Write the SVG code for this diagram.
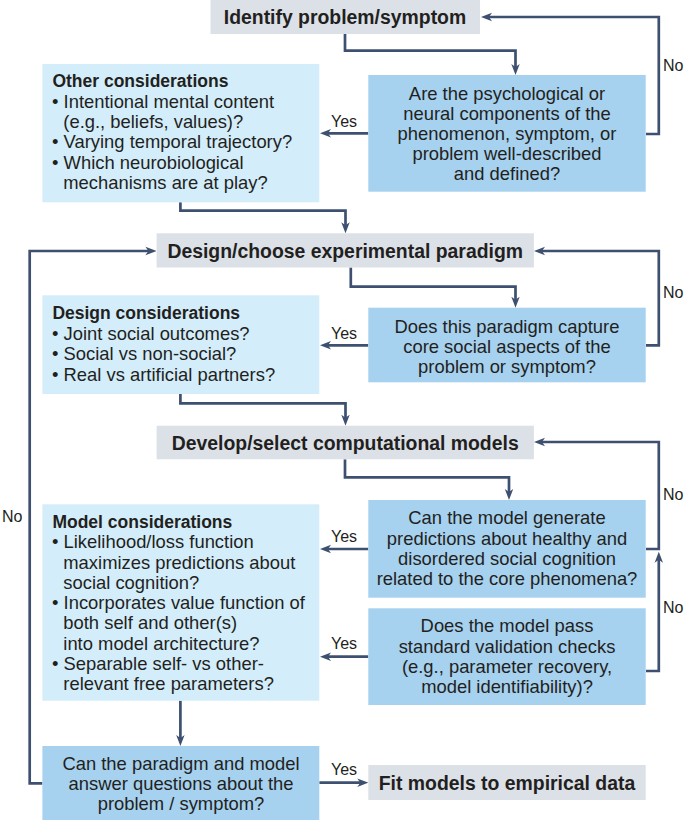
<svg xmlns="http://www.w3.org/2000/svg" width="685" height="820" viewBox="0 0 685 820">
<style>
.gray{fill:#dce1e8}
.light{fill:#d3edfb}
.mid{fill:#a6d1ef}
text{font-family:"Liberation Sans",Arial,sans-serif;fill:#231f20}
.t{font-size:19.4px;font-weight:bold;text-anchor:middle}
.h{font-size:17.5px;font-weight:bold}
.b{font-size:18.4px}
.c{font-size:18.4px;text-anchor:middle}
.lab{font-size:16px}
.labm{font-size:16px;text-anchor:middle}
.conn path{fill:none;stroke:#3e5070;stroke-width:2.7;marker-end:url(#arr)}
</style>
<defs>
<marker id="arr" markerUnits="userSpaceOnUse" markerWidth="11" markerHeight="10" viewBox="0 0 11 10" refX="6" refY="5" orient="auto">
<path d="M0,0.8 L11,5 L0,9.2 L3,5 Z" fill="#3e5070"/>
</marker>
</defs>
<rect width="685" height="820" fill="#ffffff"/>

<g id="connectors" class="conn">
<path d="M345,34 V50.7 H515.5 V70"/>
<path d="M646,134 H658.8 V17 H486"/>
<path d="M368.3,133.3 H325"/>
<path d="M180.4,202.3 V210.7 H345.5 V228.3"/>
<path d="M350.8,267.5 V286.7 H515.5 V302.7"/>
<path d="M646,345.3 H658.8 V251 H539"/>
<path d="M368.3,345.3 H325"/>
<path d="M180.4,394 V403.3 H345.5 V420.7"/>
<path d="M345,459.3 V477.3 H509 V495"/>
<path d="M646,549 H658.8 V442 H539"/>
<path d="M646,671 H658.8 V556.7"/>
<path d="M368.3,549 H325"/>
<path d="M368.3,656.7 H325"/>
<path d="M180.4,700.7 V741"/>
<path d="M42.4,783.3 H29.7 V251 H151.4"/>
<path d="M319.3,782.7 H363.3"/>
</g>

<g id="labels">
<text class="lab" x="663" y="71">No</text>
<text class="labm" x="344" y="126.5">Yes</text>
<text class="lab" x="663" y="297.5">No</text>
<text class="labm" x="344" y="338.5">Yes</text>
<text class="lab" x="663" y="500">No</text>
<text class="lab" x="663" y="613.3">No</text>
<text class="labm" x="344" y="542">Yes</text>
<text class="labm" x="344" y="649.3">Yes</text>
<text class="lab" x="2" y="522">No</text>
<text class="labm" x="344" y="775.3">Yes</text>
</g>

<g id="identify">
<rect class="gray" x="210.5" y="0" width="269.5" height="34"/>
<text class="t" x="345" y="24">Identify problem/symptom</text>
</g>

<g id="q-described">
<rect class="mid" x="368.3" y="75" width="277.4" height="116.7"/>
<text class="c" x="507" y="99.5">Are the psychological or</text>
<text class="c" x="507" y="119.5">neural components of the</text>
<text class="c" x="507" y="139.5">phenomenon, symptom, or</text>
<text class="c" x="507" y="159.5">problem well-described</text>
<text class="c" x="507" y="179.5">and defined?</text>
</g>

<g id="other-considerations">
<rect class="light" x="42.4" y="64" width="276.9" height="138.3"/>
<text class="h" x="52.4" y="87">Other considerations</text>
<text class="b" x="52" y="107.5">• Intentional mental content</text>
<text class="b" x="63.3" y="127.9">(e.g., beliefs, values)?</text>
<text class="b" x="52" y="148.3">• Varying temporal trajectory?</text>
<text class="b" x="52" y="168.7">• Which neurobiological</text>
<text class="b" x="63.3" y="189.1">mechanisms are at play?</text>
</g>

<g id="design">
<rect class="gray" x="156.6" y="233.3" width="377.3" height="34.2"/>
<text class="t" x="345.2" y="258">Design/choose experimental paradigm</text>
</g>

<g id="q-paradigm">
<rect class="mid" x="368.3" y="307.7" width="277.4" height="74.6"/>
<text class="c" x="507" y="332.5">Does this paradigm capture</text>
<text class="c" x="507" y="352.5">core social aspects of the</text>
<text class="c" x="507" y="372.5">problem or symptom?</text>
</g>

<g id="design-considerations">
<rect class="light" x="42.4" y="295.3" width="276.9" height="98.7"/>
<text class="h" x="52.4" y="318.7">Design considerations</text>
<text class="b" x="52" y="339.8">• Joint social outcomes?</text>
<text class="b" x="52" y="359.8">• Social vs non-social?</text>
<text class="b" x="52" y="380.5">• Real vs artificial partners?</text>
</g>

<g id="develop">
<rect class="gray" x="156.6" y="425.7" width="377.3" height="33.6"/>
<text class="t" x="345.2" y="449.5">Develop/select computational models</text>
</g>

<g id="q-predictions">
<rect class="mid" x="368.3" y="500" width="277.4" height="97.7"/>
<text class="c" x="507" y="524.2">Can the model generate</text>
<text class="c" x="507" y="544.5">predictions about healthy and</text>
<text class="c" x="507" y="564.8">disordered social cognition</text>
<text class="c" x="507" y="585.1">related to the core phenomena?</text>
</g>

<g id="q-validation">
<rect class="mid" x="368.3" y="608.3" width="277.4" height="96.7"/>
<text class="c" x="507" y="632.2">Does the model pass</text>
<text class="c" x="507" y="652.5">standard validation checks</text>
<text class="c" x="507" y="672.8">(e.g., parameter recovery,</text>
<text class="c" x="507" y="693.1">model identifiability)?</text>
</g>

<g id="model-considerations">
<rect class="light" x="42.4" y="504.3" width="276.9" height="196.4"/>
<text class="h" x="52.4" y="527.7">Model considerations</text>
<text class="b" x="52" y="548.2">• Likelihood/loss function</text>
<text class="b" x="63.3" y="568.5">maximizes predictions about</text>
<text class="b" x="63.3" y="588.8">social cognition?</text>
<text class="b" x="52" y="609.1">• Incorporates value function of</text>
<text class="b" x="63.3" y="629.4">both self and other(s)</text>
<text class="b" x="63.3" y="649.7">into model architecture?</text>
<text class="b" x="52" y="670">• Separable self- vs other-</text>
<text class="b" x="63.3" y="690.3">relevant free parameters?</text>
</g>

<g id="q-answer">
<rect class="mid" x="42.4" y="746" width="276.9" height="74"/>
<text class="c" x="181" y="769.8">Can the paradigm and model</text>
<text class="c" x="181" y="789.8">answer questions about the</text>
<text class="c" x="181" y="809.8">problem / symptom?</text>
</g>

<g id="fit">
<rect class="gray" x="368.3" y="765" width="277.4" height="35"/>
<text class="t" x="507" y="789.5">Fit models to empirical data</text>
</g>
</svg>
